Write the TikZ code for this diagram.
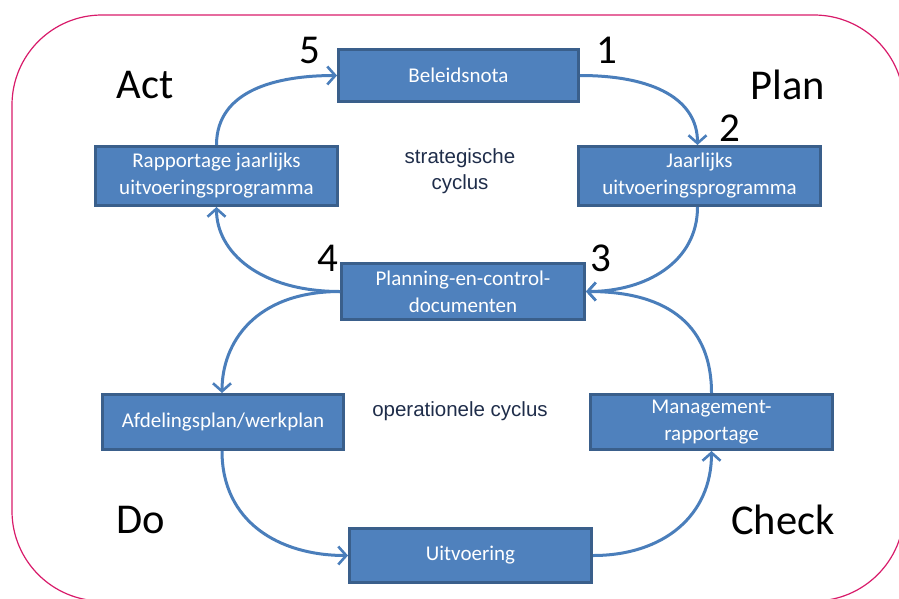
\documentclass[tikz,border=0pt]{standalone}
\usepackage{fontspec}
\setmainfont{Carlito}
\newfontfamily\arialf{Liberation Sans}
\usetikzlibrary{arrows.meta}
\definecolor{boxfill}{HTML}{4F81BD}
\definecolor{boxline}{HTML}{3A5F8B}
\definecolor{arrowc}{HTML}{4A7EBB}
\definecolor{framec}{HTML}{D81B6A}
\definecolor{navy}{HTML}{1F2D4A}
\tikzset{
  stepbox/.style={draw=boxline, fill=boxfill, line width=3pt, text=white,
    minimum width=240pt, minimum height=53pt, align=center, inner sep=0pt,
    font=\fontsize{21}{27}\selectfont},
  flow/.style={draw=arrowc, line width=3pt,
    -{Straight Barb[length=8pt,width=18pt,line width=2.6pt]}},
  bigword/.style={font=\fontsize{42.5}{46}\selectfont, text=black, inner sep=0pt},
  numlab/.style={font=\fontsize{41}{44}\selectfont, text=black, inner sep=0pt},
  midtext/.style={font=\arialf\fontsize{20.5}{26}\selectfont, text=navy, align=center, inner sep=0pt}
}
\begin{document}
\begin{tikzpicture}[x=1pt,y=-1pt]
\useasboundingbox (0,0) rectangle (899,598);
\clip (0,0) rectangle (899,598);
\draw[framec, line width=1.2pt, rounded corners=90pt] (12,15) rectangle (904,601);

\node[stepbox, minimum width=240pt, minimum height=52pt] (bel) at (458.5,75.5) {Beleidsnota};
\node[stepbox, minimum width=242pt, minimum height=59pt] (rap) at (216.5,176) {Rapportage jaarlijks\\uitvoeringsprogramma};
\node[stepbox, minimum width=242pt, minimum height=59pt] (jaar) at (699.5,176) {Jaarlijks\\uitvoeringsprogramma};
\node[stepbox, minimum width=243pt, minimum height=56pt] (pc) at (463,291.5) {Planning-en-control-\\documenten};
\node[stepbox, minimum width=241pt, minimum height=55pt] (afd) at (223,422) {Afdelingsplan/werkplan};
\node[stepbox, minimum width=242pt, minimum height=55pt] (man) at (711.5,422) {Management-\\rapportage};
\node[stepbox, minimum width=242pt, minimum height=54pt] (uit) at (470.5,555.5) {Uitvoering};

\node[midtext] (strat) at (460,171) {strategische\\cyclus};
\node[midtext] (oper) at (460,411) {operationele cyclus};

\node[bigword] (act) at (145,85) {Act};
\node[bigword] (plan) at (788,85) {Plan};
\node[bigword] (do) at (141,520) {Do};
\node[bigword] (check) at (783,520) {Check};

\node[numlab] (n5) at (310,50) {5};
\node[numlab] (n1) at (607,50) {1};
\node[numlab] (n2) at (730,128) {2};
\node[numlab] (n3) at (601,258) {3};
\node[numlab] (n4) at (328,258) {4};

\draw[flow] (bel.east) .. controls +(75,0) and +(0,-45) .. ([xshift=-2pt]jaar.north);
\draw[flow] ([xshift=-2pt]jaar.south) .. controls +(0,55) and +(60,0) .. (pc.east);
\draw[flow] (pc.west) .. controls +(-80,0) and +(0,45) .. (rap.south);
\draw[flow] (rap.north) .. controls +(0,-55) and +(-60,0) .. (bel.west);
\draw[flow] (pc.west) .. controls +(-85,0) and +(0,-50) .. ([xshift=-1pt]afd.north);
\draw[flow] ([xshift=-1pt]afd.south) .. controls +(0,70) and +(-70,0) .. (uit.west);
\draw[flow] (uit.east) .. controls +(70,0) and +(0,65) .. (man.south);
\draw[flow] (man.north) .. controls +(0,-65) and +(85,0) .. (pc.east);
\end{tikzpicture}
\end{document}
